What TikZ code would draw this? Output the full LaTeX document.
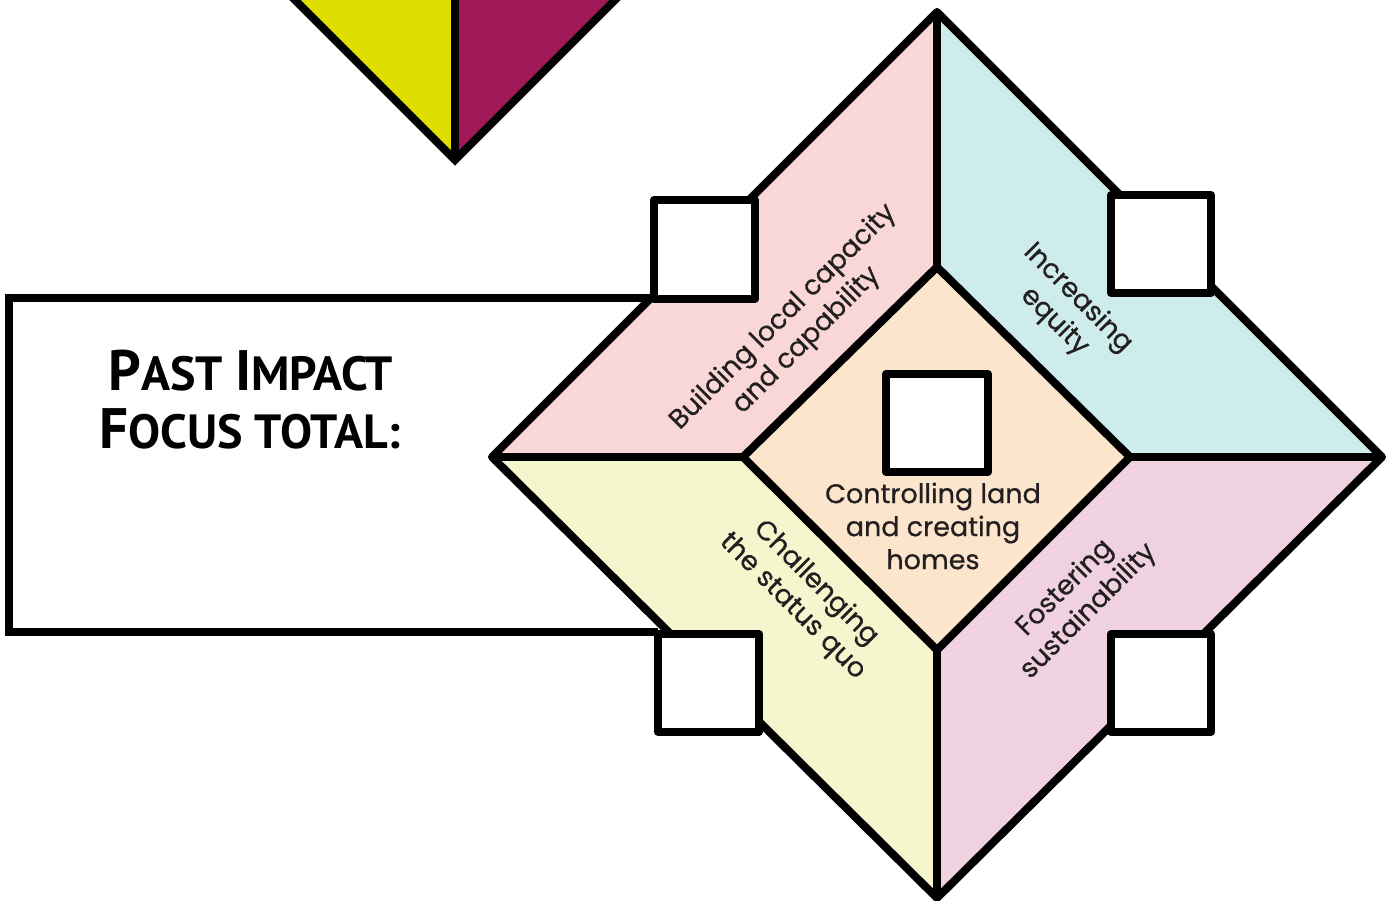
\documentclass[tikz,border=0pt]{standalone}
\usepackage{fontspec}
\setmainfont{Poppins}
\newfontfamily\lblfont{Poppins}[FakeBold=0.6]
\newfontfamily\titlefont{PT Sans}
\definecolor{cpink}{HTML}{F8D7D6}
\definecolor{ccyan}{HTML}{CFECEC}
\definecolor{cyel}{HTML}{F5F6CD}
\definecolor{cmauve}{HTML}{EFD1E0}
\definecolor{cpeach}{HTML}{FBE6CD}
\definecolor{tyel}{HTML}{DFDD00}
\definecolor{tmag}{HTML}{A01A5A}
\definecolor{txt}{HTML}{231F20}
\newcommand\ttlbig[1]{{\fontsize{57}{60}\selectfont #1}}
\newcommand\ttlsmall[1]{{\fontsize{48}{60}\selectfont #1}}
\tikzset{
  edge/.style={line width=8pt, line join=round, draw=black},
  scorebox/.style={edge, fill=white},
  lbl/.style={align=center, text=txt, inner sep=0pt, font=\lblfont\fontsize{27}{33}\selectfont},
  ttl/.style={anchor=base, inner sep=0pt, text=black, font=\titlefont\bfseries}
}
\begin{document}
\begin{tikzpicture}[x=1pt,y=-1pt]
\clip (0,0) rectangle (1394,901);
\fill[white] (0,0) rectangle (1394,901);
% main diamond coordinates
\coordinate (T) at (937,12);
\coordinate (L) at (492,457);
\coordinate (R) at (1382,457);
\coordinate (B) at (937,898);
\coordinate (iT) at (937,267);
\coordinate (iL) at (743,457);
\coordinate (iR) at (1130,457);
\coordinate (iB) at (937,650);
% fills
\fill[cpink] (L)--(T)--(iT)--(iL)--cycle;
\fill[ccyan] (T)--(R)--(iR)--(iT)--cycle;
\fill[cmauve] (R)--(B)--(iB)--(iR)--cycle;
\fill[cyel] (B)--(L)--(iL)--(iB)--cycle;
\fill[cpeach] (iT)--(iR)--(iB)--(iL)--cycle;
% outlines
\draw[edge] (L)--(T)--(R)--(B)--cycle;
\draw[edge] (iT)--(iR)--(iB)--(iL)--cycle;
\draw[edge] (T)--(iT) (L)--(iL) (R)--(iR) (B)--(iB);
% left panel
\coordinate (pTL) at (9,298);
\coordinate (pBL) at (9,632);
\coordinate (pTR) at (654,298);
\coordinate (pBR) at (658,632);
\draw[edge, line join=miter] (pTR)--(pTL)--(pBL)--(pBR);
% score boxes
\draw[scorebox] (654,200) rectangle (755,299);
\draw[scorebox] (1111,195) rectangle (1211,293);
\draw[scorebox] (658,634) rectangle (759,732);
\draw[scorebox] (1111,634) rectangle (1211,732);
\draw[scorebox] (886,374) rectangle (988,472);
% top triangle
\coordinate (tt) at (455,160);
\coordinate (ta) at (285,-10);
\coordinate (tm) at (455,-10);
\coordinate (tb) at (625,-10);
\fill[tyel] (tt)--(ta)--(tm)--cycle;
\fill[tmag] (tt)--(tb)--(tm)--cycle;
\draw[edge, line join=miter] (ta)--(tt)--(tb);
\draw[edge] (tt)--(tm);
% labels
\node[lbl, rotate=45] (lbuild) at (795,329) {Building local capacity\\and capability};
\node[lbl, rotate=-45] (lequity) at (1066,310) {Increasing\\equity};
\node[lbl, rotate=-45] (lchall) at (804,595) {Challenging\\the status quo};
\node[lbl, rotate=45] (lfost) at (1077,600) {Fostering\\sustainability};
\node[lbl] (lland) at (933,526) {Controlling land\\and creating\\homes};
% title
\node[ttl] (t1) at (251,390) {\ttlbig{P}\ttlsmall{AST }\ttlbig{I}\ttlsmall{MPACT}};
\node[ttl] (t2) at (250,448) {\ttlbig{F}\ttlsmall{OCUS TOTAL:}};
\end{tikzpicture}
\end{document}
